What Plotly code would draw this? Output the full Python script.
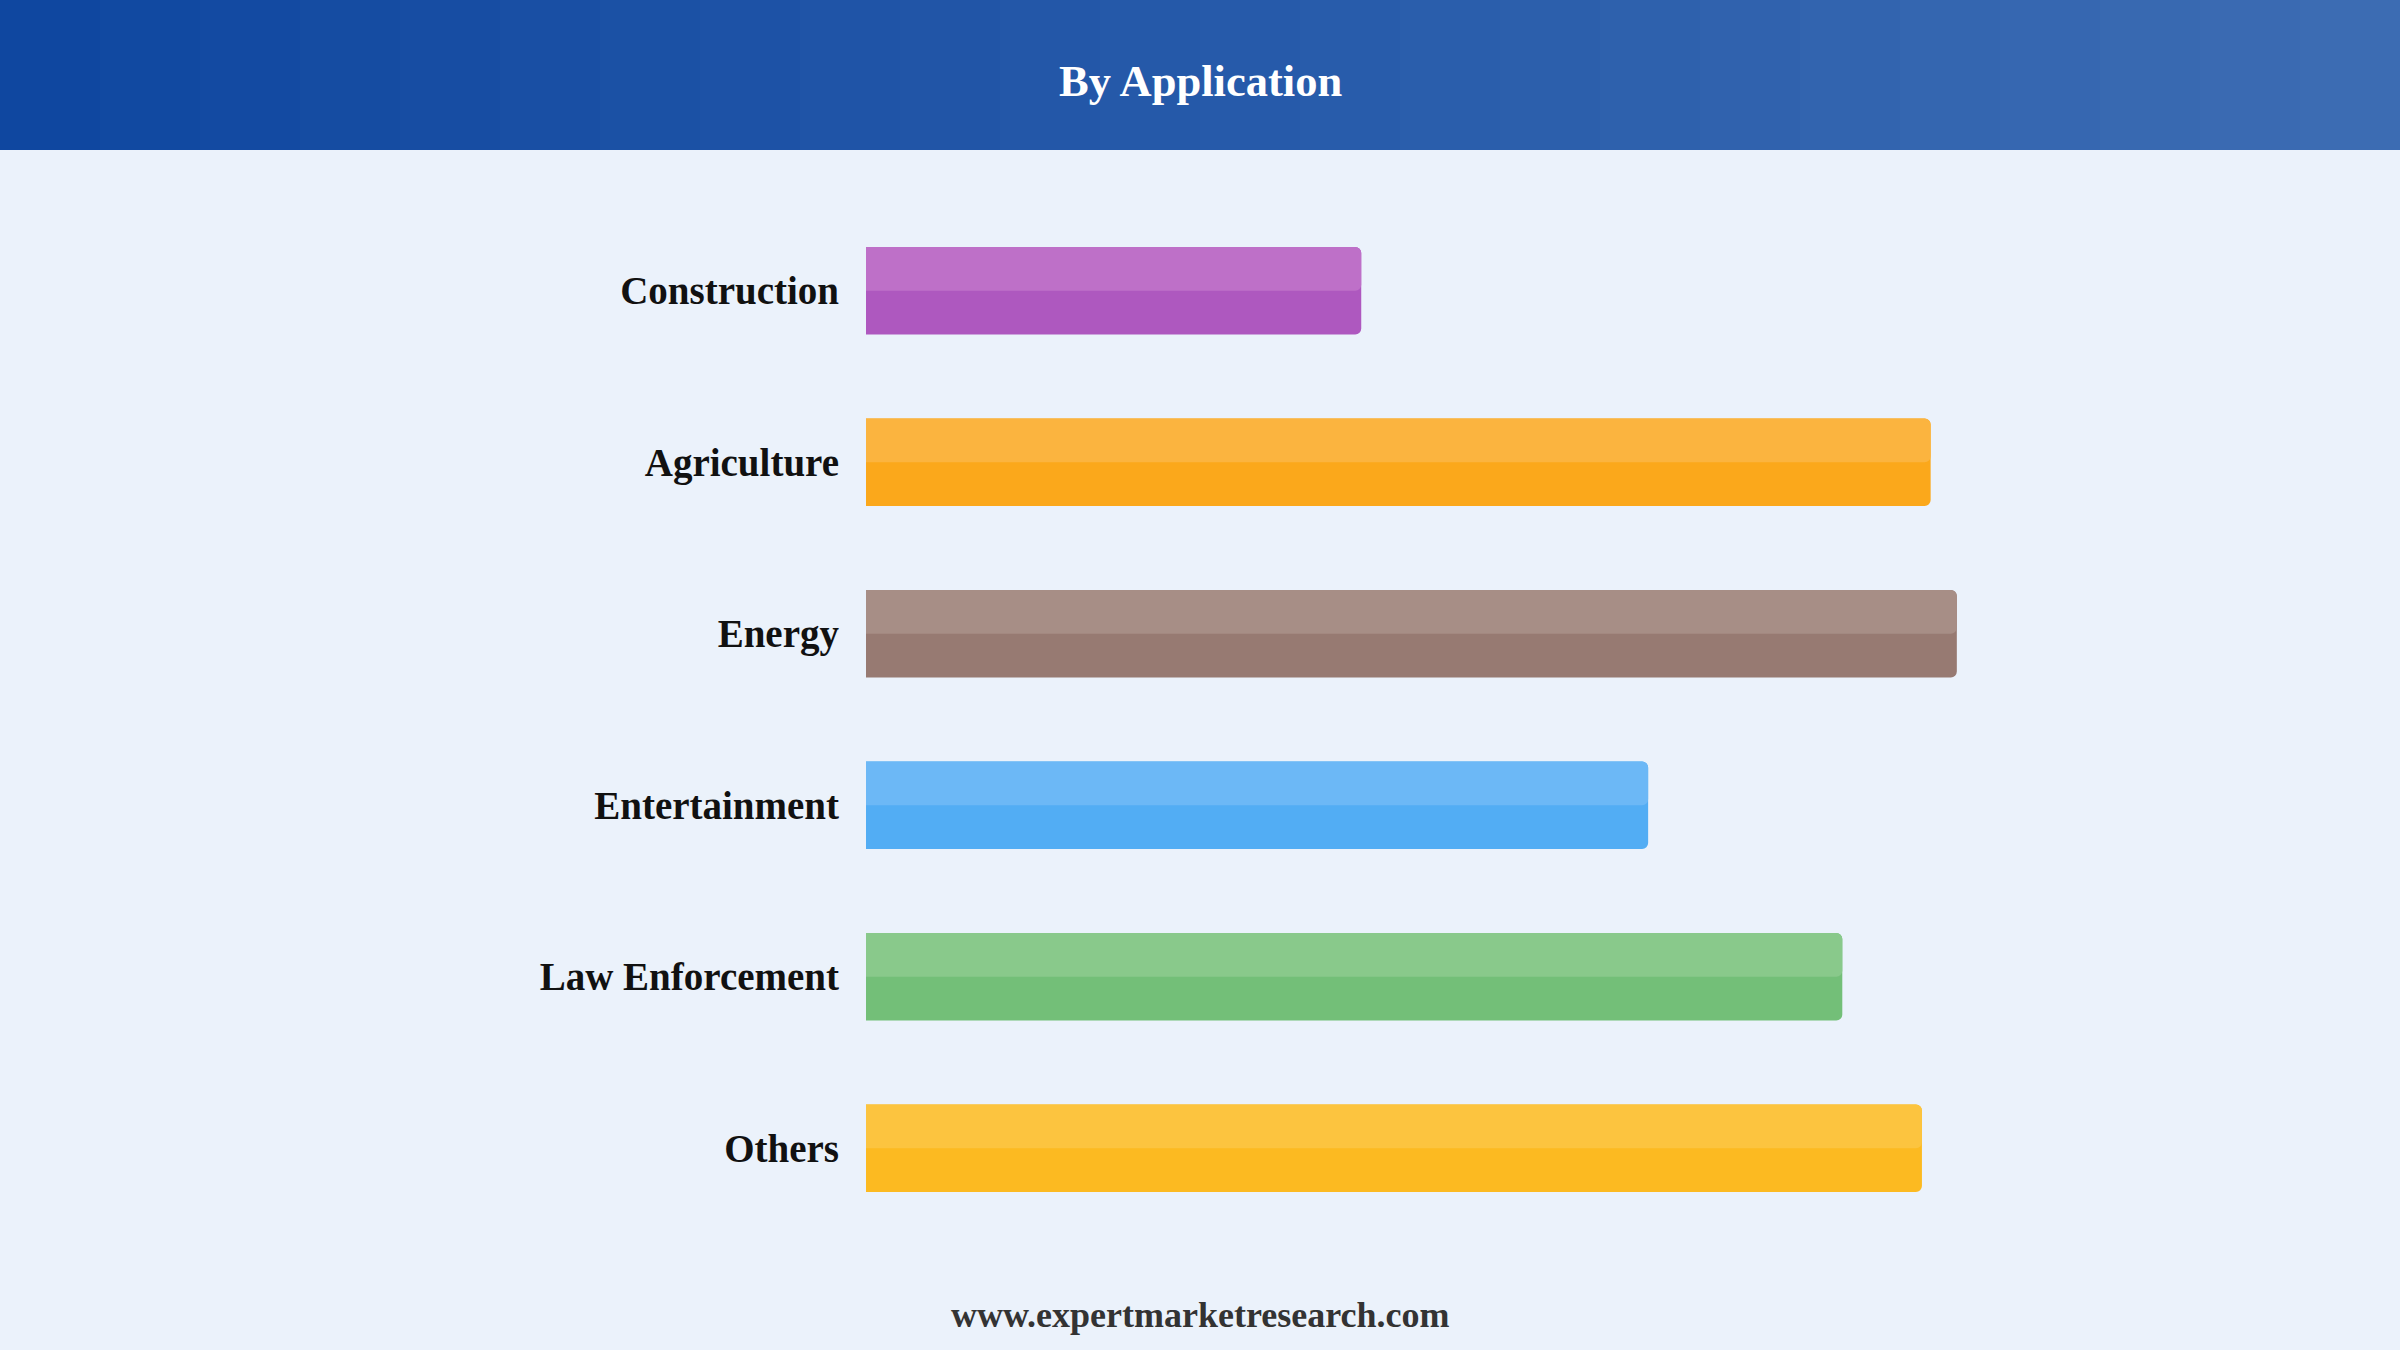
import plotly.graph_objects as go

# Datos
categorias = ["Construction", "Agriculture", "Energy", "Entertainment", "Law Enforcement", "Others"]
valores = [45.4, 97.6, 100.0, 71.7, 89.5, 96.8]
color_claro = ["#BE70C8", "#FBB43F", "#A78E86", "#6CB8F6", "#89C98B", "#FCC43F"]
color_oscuro = ["#AE58BF", "#FBA81B", "#977A72", "#52ADF4", "#73BF78", "#FCBA21"]

titulo = "By Application"
pie = "www.expertmarketresearch.com"

# Lienzo
W, H = 2400, 1350
ML, MR, MT, MB = 866, 225, 205, 116
PW, PH = W - ML - MR, H - MT - MB


def fx(px):
    return (px - ML) / PW


def fy(py):
    return 1 - (py - MT) / PH


serif = "Times New Roman, Liberation Serif, serif"

fig = go.Figure()

# barra completa (tono oscuro)
fig.add_trace(go.Bar(
    y=categorias, x=valores, orientation="h",
    marker=dict(color=color_oscuro, cornerradius=6, line=dict(width=0)),
    width=0.51, hoverinfo="x+y",
))
# mitad superior (tono claro)
fig.add_trace(go.Bar(
    y=categorias, x=valores, orientation="h",
    marker=dict(color=color_claro, cornerradius=6, line=dict(width=0)),
    width=0.255, offset=-0.255, hoverinfo="skip",
))

# Cabecera con degradado por franjas
n = 24
c1 = (15, 71, 160)
c2 = (60, 108, 179)
for i in range(n):
    t = i / (n - 1)
    col = tuple(round(a + (b - a) * t) for a, b in zip(c1, c2))
    fig.add_shape(
        type="rect", xref="paper", yref="paper",
        x0=fx(W * i / n), x1=fx(W * (i + 1) / n + 1),
        y0=fy(150), y1=fy(0),
        fillcolor="rgb(%d,%d,%d)" % col, line=dict(width=0), layer="below",
    )

fig.add_annotation(
    text="<b>" + titulo + "</b>", xref="paper", yref="paper",
    x=fx(1200), y=fy(81), xanchor="center", yanchor="middle", showarrow=False,
    font=dict(family=serif, size=44.5, color="white"),
)
fig.add_annotation(
    text="<b>" + pie + "</b>", xref="paper", yref="paper",
    x=fx(1200), y=fy(1315), xanchor="center", yanchor="middle", showarrow=False,
    font=dict(family=serif, size=36, color="#333333"),
)

fig.update_layout(
    width=W, height=H,
    margin=dict(l=ML, r=MR, t=MT, b=MB),
    barmode="overlay",
    showlegend=False,
    plot_bgcolor="#EBF2FB",
    paper_bgcolor="#EBF2FB",
    xaxis=dict(range=[0, 120], visible=False, fixedrange=True),
    yaxis=dict(
        range=[5.5, -0.5],
        showgrid=False, zeroline=False, showline=False, ticks="",
        ticklabelstandoff=26,
        tickfont=dict(family=serif, size=39, color="#111111", weight="bold"),
        fixedrange=True,
    ),
)

# quitar el margen del body para que la figura empiece en (0,0)
fig.write_html(
    "out.html",
    config={"displayModeBar": False},
    post_script="document.body.style.margin='0px';",
)
